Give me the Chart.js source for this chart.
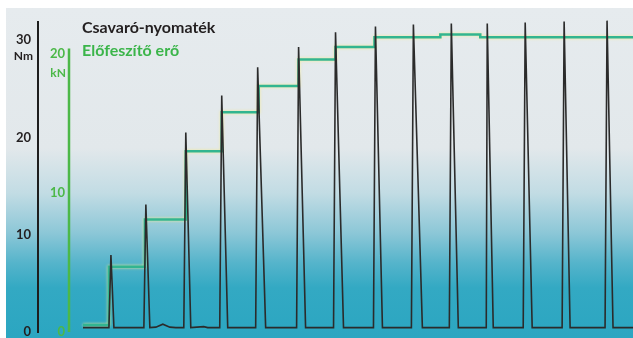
<!DOCTYPE html>
<html>
<head>
<meta charset="utf-8">
<script src="https://cdn.jsdelivr.net/npm/chart.js@4"></script>
<style>
  html, body { margin: 0; padding: 0; background: #fff; }
  #wrap { position: relative; width: 633px; height: 338px; overflow: hidden; }
  #bg {
    position: absolute; left: 6px; top: 8px; right: 0; bottom: 0;
    background: linear-gradient(to bottom, #e6ebee 0px, #e2e8eb 140px, #c2dce4 185px,
      #8cc7d7 225px, #55b4cb 255px, #33a9c3 280px, #2ba6c1 330px);
  }
  canvas { position: absolute; left: 0; top: 0; }
  .legend { position: absolute; left: 82px; font: bold 16px Lato, sans-serif; white-space: nowrap; }
  #l1 { top: 17px; color: #231f20; }
  #l2 { top: 40px; color: #3bb54a; }
</style>
</head>
<body>
<div id="wrap">
  <div id="bg"></div>
  <canvas id="chart" width="633" height="338"></canvas>
  <div class="legend" id="l1">Csavaró-nyomaték</div>
  <div class="legend" id="l2">Előfeszítő erő</div>
</div>
<script>
// torque (Nm) over time (arbitrary units)
const torqueTime = [
  1.3, 3.9, 4.1, 4.4, 7.4, 7.6, 8.0, 8.6, 9.3, 10.0, 10.6, 11.4, 11.6, 12.1,
  13.4, 13.8, 15.0, 15.2, 15.8, 18.6, 18.8, 19.6, 22.7, 22.9, 23.6,
  26.4, 26.6, 27.4, 30.4, 30.6, 31.3, 34.2, 34.4, 35.3, 38.0, 38.2, 38.9,
  41.7, 41.8, 42.4, 45.4, 45.6, 46.3, 49.3, 49.5, 50.1, 53.6, 53.8, 54.4, 56.4
];
const torqueNm = [
  0.45, 0.45, 7.9, 0.45, 0.45, 13.1, 0.45, 0.5, 0.8, 0.5, 0.45, 0.45, 20.5, 0.45,
  0.55, 0.45, 0.45, 24.3, 0.45, 0.45, 27.2, 0.45, 0.45, 29.3, 0.45,
  0.45, 30.8, 0.45, 0.45, 31.4, 0.45, 0.45, 31.6, 0.45, 0.45, 31.7, 0.45,
  0.45, 31.7, 0.45, 0.45, 31.8, 0.45, 0.45, 31.9, 0.45, 0.45, 32.0, 0.45, 0.45
];

// preload force (kN), change points of the step line
const forceTime = [1.3, 3.9, 7.5, 11.6, 15.2, 18.9, 22.9, 26.6, 30.5, 37.1, 41.1, 56.4];
const forceKN = [0.5, 4.7, 8.1, 13.0, 15.8, 17.7, 19.6, 20.5, 21.2, 21.4, 21.2, 21.2];

const nmTicks = [0, 10, 20, 30];
const knTicks = [0, 10, 20];

const toPoints = (xs, ys) => xs.map((x, i) => ({ x: x, y: ys[i] }));

// unit labels + the shorter green axis line
const axisExtras = {
  id: "axisExtras",
  beforeDatasetDraw(chart, args) {
    if (args.index === 1) {
      chart.ctx.save();
      chart.ctx.shadowColor = "rgba(245,235,140,0.9)";
      chart.ctx.shadowBlur = 3;
    }
  },
  afterDatasetDraw(chart, args) {
    if (args.index === 1) chart.ctx.restore();
  },
  afterDraw(chart) {
    const { ctx, scales: { y, y1 } } = chart;
    ctx.save();
    ctx.strokeStyle = "#4cb848";
    ctx.lineWidth = 2.5;
    ctx.beginPath();
    ctx.moveTo(y1.right - 1, y1.getPixelForValue(20.4));
    ctx.lineTo(y1.right - 1, y1.bottom);
    ctx.stroke();
    ctx.font = "bold 12px Lato, sans-serif";
    ctx.textAlign = "right";
    ctx.textBaseline = "middle";
    ctx.fillStyle = "#231f20";
    ctx.fillText("Nm", y.right - 5, y.getPixelForValue(30) + 16);
    ctx.fillStyle = "#4cb848";
    ctx.fillText("kN", y1.right - 4, y1.getPixelForValue(20) + 19);
    ctx.restore();
  },
};

// fixed axis width, no extra room for the end labels
const fitAxis = (w) => (s) => {
  s.width = w;
  s.paddingTop = 0;
  s.paddingBottom = 0;
};

new Chart(document.getElementById("chart"), {
  type: "line",
  data: {
    datasets: [
      {
        label: "Csavaró-nyomaték",
        data: toPoints(torqueTime, torqueNm),
        yAxisID: "y",
        borderColor: "#2b2b2b",
        borderWidth: 1.6,
        pointRadius: 0,
        clip: false,
      },
      {
        label: "Előfeszítő erő",
        data: toPoints(forceTime, forceKN),
        yAxisID: "y1",
        borderColor: "#32b590",
        borderWidth: 2.5,
        pointRadius: 0,
        stepped: true,
        clip: false,
      },
    ],
  },
  options: {
    responsive: false,
    animation: false,
    devicePixelRatio: 1,
    layout: { padding: { top: 22, bottom: 6, left: 0, right: 0 } },
    plugins: { legend: { display: false }, tooltip: { enabled: false } },
    scales: {
      x: { type: "linear", min: 0, max: 56.4, display: false },
      y: {
        position: "left",
        weight: 1,
        min: 0,
        max: 31.86,
        afterFit: fitAxis(38),
        afterBuildTicks: (s) => { s.ticks = nmTicks.map((v) => ({ value: v })); },
        grid: { display: false, drawTicks: false },
        border: { display: true, color: "#1e1e1e", width: 2 },
        ticks: { color: "#231f20", padding: 7, font: { family: "Lato", weight: "bold", size: 13 } },
      },
      y1: {
        position: "left",
        weight: 0,
        min: 0,
        max: 22.3,
        afterFit: fitAxis(32),
        afterBuildTicks: (s) => { s.ticks = knTicks.map((v) => ({ value: v })); },
        grid: { display: false, drawTicks: false },
        border: { display: false },
        ticks: { color: "#4cb848", padding: 5, font: { family: "Lato", weight: "bold", size: 13 } },
      },
    },
  },
  plugins: [axisExtras],
});
</script>
</body>
</html>
